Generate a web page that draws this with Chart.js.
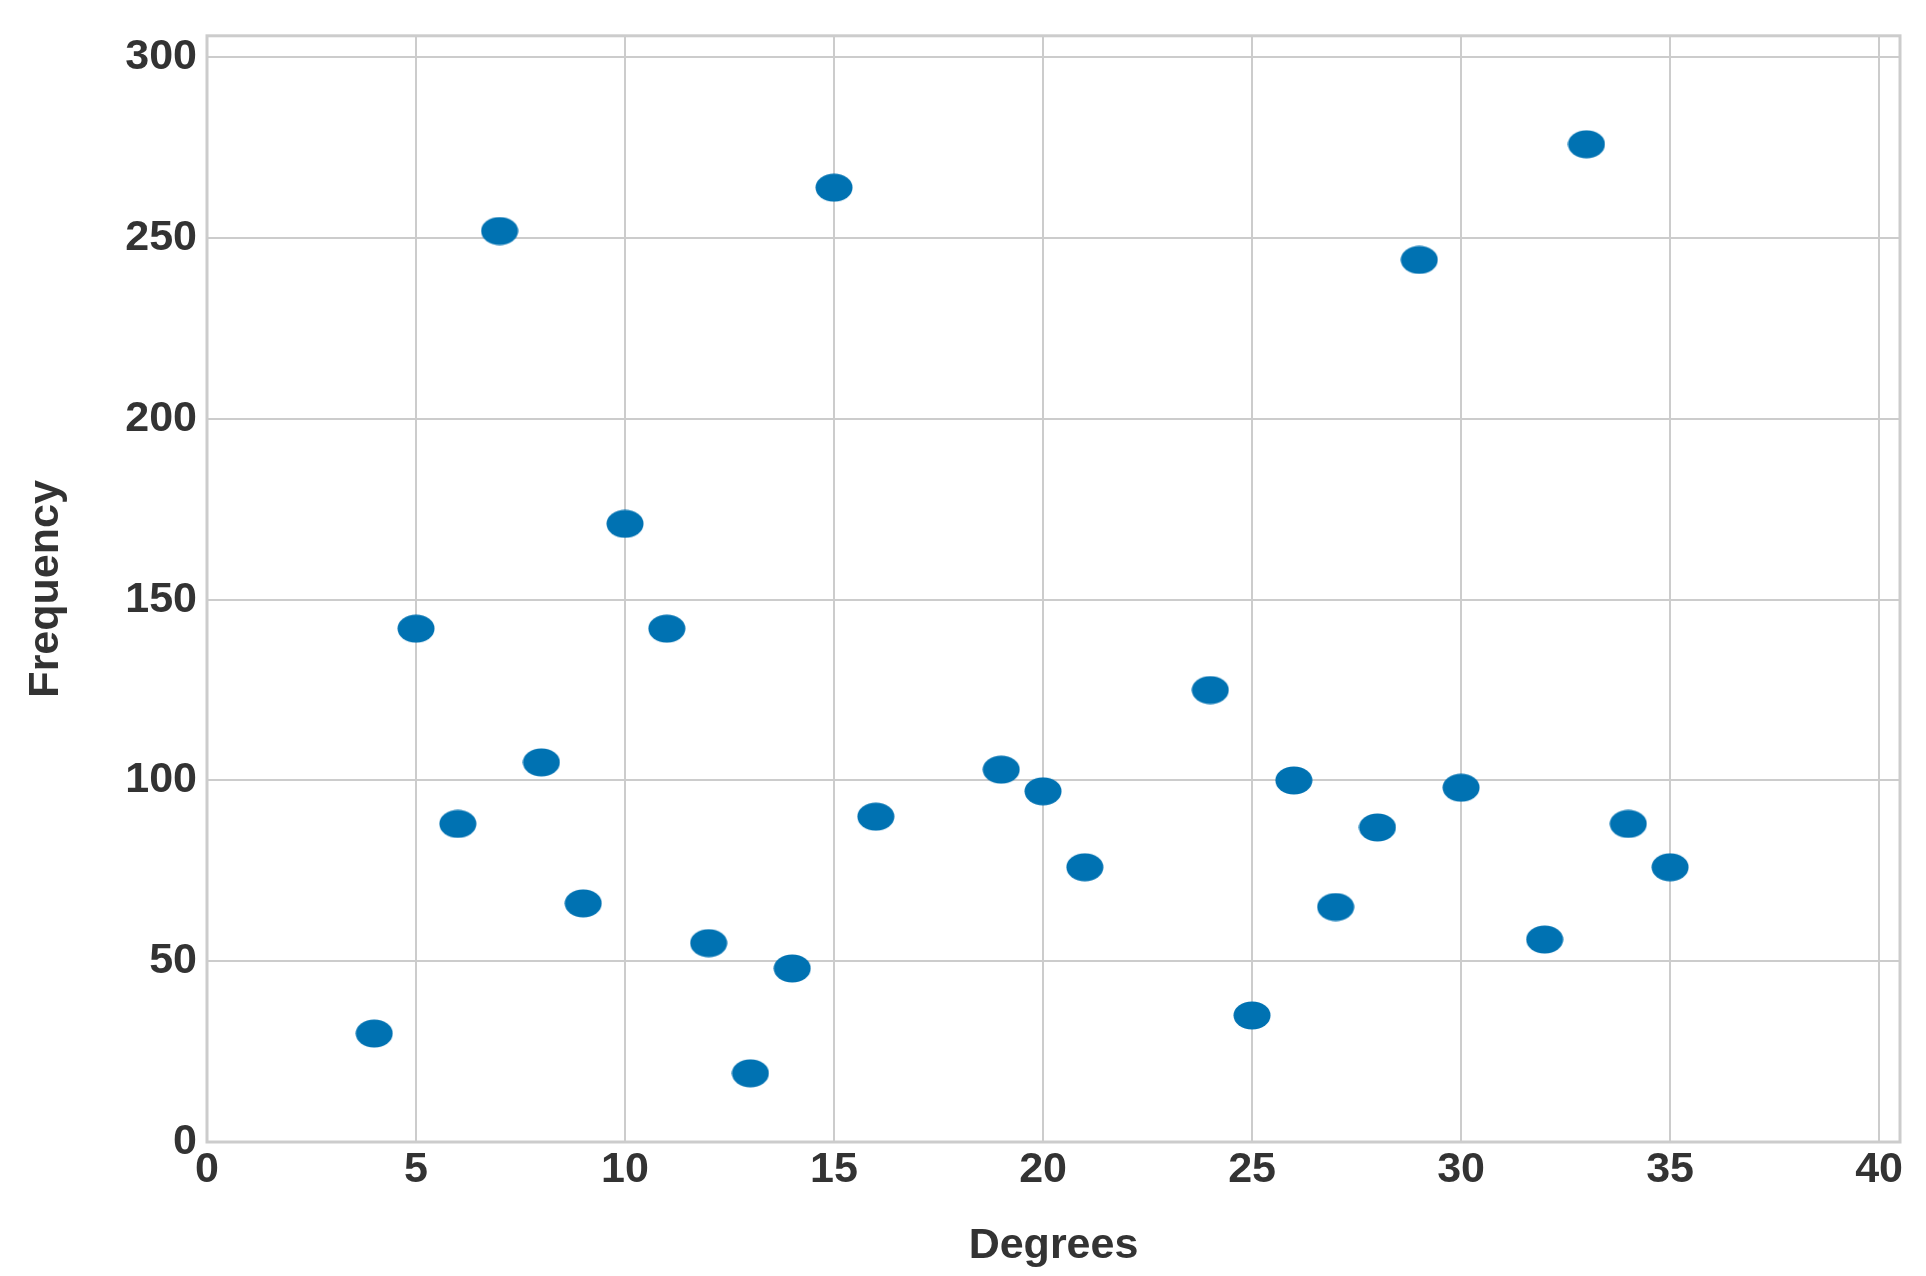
<!DOCTYPE html>
<html>
<head>
<meta charset="utf-8">
<script src="https://cdn.jsdelivr.net/npm/chart.js@4"></script>
<style>
  html, body { margin: 0; padding: 0; background: #fff; }
  #wrap { width: 1926px; height: 1276px; }
</style>
</head>
<body>
<div id="wrap"><canvas id="chart"></canvas></div>
<script>
const degrees = [4, 5, 6, 7, 8, 9, 10, 11, 12, 13, 14, 15, 16, 19, 20, 21, 24, 25, 26, 27, 28, 29, 30, 32, 33, 34, 35];
const frequency = [30, 142, 88, 252, 105, 66, 171, 142, 55, 19, 48, 264, 90, 103, 97, 76, 125, 35, 100, 65, 87, 244, 98, 56, 276, 88, 76];
const xTicks = [0, 5, 10, 15, 20, 25, 30, 35, 40];
const yTicks = [0, 50, 100, 150, 200, 250, 300];

// elliptical marker
const dot = document.createElement("canvas");
dot.width = 38;
dot.height = 29;
const dctx = dot.getContext("2d");
dctx.fillStyle = "#0072b2";
dctx.beginPath();
dctx.ellipse(19, 14.5, 18.5, 14, 0, 0, Math.PI * 2);
dctx.fill();

const font = { family: "'Liberation Sans', Arial, sans-serif", size: 43, weight: "bold" };

new Chart(document.getElementById("chart"), {
  type: "scatter",
  data: {
    datasets: [{
      data: degrees.map((d, i) => ({ x: d, y: frequency[i] })),
      pointStyle: dot,
      pointRadius: 18,
    }],
  },
  options: {
    responsive: true,
    maintainAspectRatio: false,
    animation: false,
    layout: { padding: { top: 35, right: 26, left: 0, bottom: 0 } },
    plugins: { legend: { display: false }, tooltip: { enabled: false } },
    scales: {
      x: {
        min: 0, max: 40.5,
        afterBuildTicks: (a) => { a.ticks = xTicks.map((v) => ({ value: v })); },
        ticks: { color: "#333", font, padding: 2, autoSkip: false, maxRotation: 0 },
        grid: { color: "#cccccc", lineWidth: 2, drawTicks: false },
        border: { display: false },
        title: { display: true, text: "Degrees", color: "#333", font, padding: { top: 0 } },
        afterFit: (a) => { a.height = 134; },
      },
      y: {
        min: 0, max: 306,
        afterBuildTicks: (a) => { a.ticks = yTicks.map((v) => ({ value: v })); },
        ticks: { color: "#333", font, padding: 10, autoSkip: false },
        grid: { color: "#cccccc", lineWidth: 2, drawTicks: false },
        border: { display: false },
        title: { display: true, text: "Frequency", color: "#333", font, padding: { top: 20, bottom: 0 } },
        afterFit: (a) => { a.width = 207; },
      },
    },
  },
  plugins: [{
    id: "frame",
    afterDraw(c) {
      const { ctx, chartArea: a } = c;
      ctx.save();
      ctx.strokeStyle = "#cccccc";
      ctx.lineWidth = 3;
      ctx.strokeRect(a.left, a.top, a.right - a.left, a.bottom - a.top);
      ctx.restore();
    },
  }],
});
</script>
</body>
</html>
